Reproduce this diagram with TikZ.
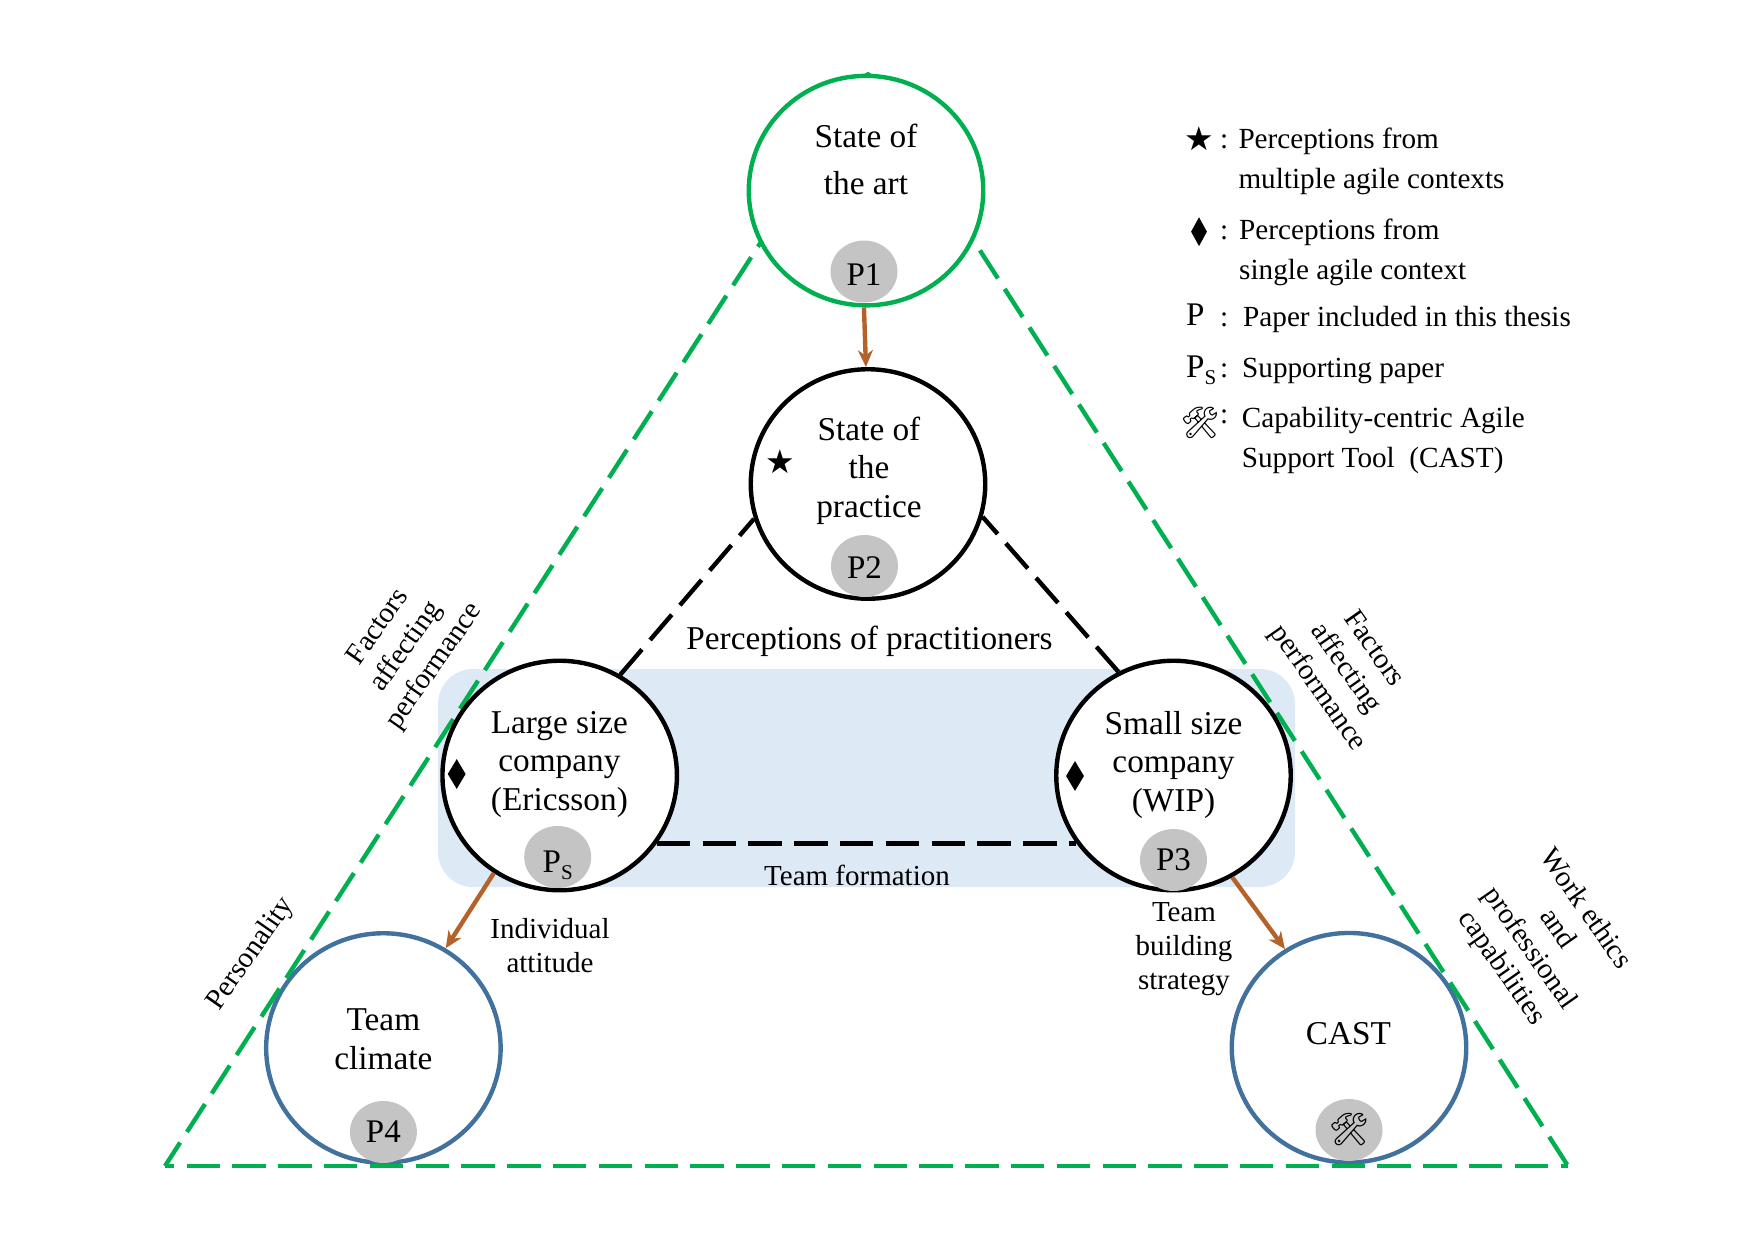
\documentclass[tikz,border=0pt]{standalone}
\usepackage{fontspec}
\setmainfont{Liberation Serif}
\newfontfamily\emojifont{Noto Emoji}
\newfontfamily\symfont{DejaVu Sans}
\usetikzlibrary{shapes.geometric,arrows.meta}
\definecolor{tgreen}{HTML}{00B050}
\definecolor{tblue}{HTML}{41719C}
\definecolor{tbrown}{HTML}{B5622A}
\definecolor{tgray}{HTML}{C4C4C4}
\definecolor{tpanel}{HTML}{DEE9F6}
\newcommand{\fsz}[2]{\fontsize{#1}{#2}\selectfont}
\newcommand{\PSub}{P\raisebox{-0.22em}{\fsz{21}{21}S}}
\tikzset{
  x=1pt,y=-1pt,
  ring/.style={ellipse,draw,line width=4.4pt,fill=white,minimum width=234.5pt,minimum height=229.5pt,inner sep=0pt},
  greenring/.style={ring,draw=tgreen},
  blackring/.style={ring,draw=black},
  bluering/.style={ring,draw=tblue},
  badge/.style={ellipse,fill=tgray,minimum width=67pt,minimum height=62pt,inner sep=0pt,font=\fsz{33}{38}},
  title/.style={align=center,inner sep=0pt,font=\fsz{33.3}{38.5}},
  smalllabel/.style={align=center,inner sep=0pt,font=\fsz{29}{34}},
  legend/.style={anchor=base west,inner sep=0pt,font=\fsz{29.2}{34}},
  legendsym/.style={inner sep=0pt,font=\fsz{33}{38}},
  gemstone/.style={diamond,fill=black,inner sep=0pt,minimum width=18pt,minimum height=30pt},
  greendash/.style={draw=tgreen,line width=4.4pt,dash pattern=on 33.3pt off 12.5pt},
  blackdash/.style={draw=black,line width=4.4pt,dash pattern=on 33.3pt off 12.5pt},
  flow/.style={draw=tbrown,line width=4.4pt,-{Stealth[length=17pt,width=15pt]}},
}
\begin{document}
\begin{tikzpicture}
\useasboundingbox (0,0) rectangle (1754,1240);
% panel
\node[fill=tpanel,rounded corners=35pt,minimum width=857pt,minimum height=218pt,inner sep=0pt] (panel) at (866.5,778) {};
% blue circles
\node[bluering] (climate) at (383.4,1048) {};
\node[bluering] (cast) at (1349,1047.7) {};
% triangle
\coordinate (apexl) at (870,73);
\coordinate (apexr) at (866,73);
\coordinate (vl) at (165,1166);
\coordinate (vr) at (1568,1166);
\draw[greendash,dash phase=9.7pt] (apexl) -- (vl);
\draw[greendash,dash phase=18.2pt] (apexr) -- (vr);
\draw[greendash,dash phase=24.2pt] (vl) -- (vr);
% circles
\node[greenring] (art) at (866,190.6) {};
\node[blackring] (practice) at (868,484) {};
\node[blackring] (large) at (559.7,775.5) {};
\node[blackring] (small) at (1173.5,775.5) {};
% dashed connectors
\draw[blackdash] (large.59) -- (practice.197);
\draw[blackdash] (small.118) -- (practice.-16);
\draw[blackdash] (large.-35) -- (small.215);
% arrows
\draw[flow] (art.-91) -- (practice.91);
\draw[flow] (large.236) -- (climate.58.5);
\draw[flow] (small.-60) -- (cast.123.4);
% badges
\node[badge] (p1) at (864,271.5) {\raisebox{-3pt}[22pt][0pt]{P1}};
\node[badge] (p2) at (864.5,566) {\raisebox{-1pt}[22pt][0pt]{P2}};
\node[badge] (ps) at (557.7,857) {\raisebox{-4pt}[22pt][0pt]{\PSub}};
\node[badge] (p3) at (1173.5,860) {P3};
\node[badge] (p4) at (383.4,1132) {P4};
\node[badge] (p5) at (1349,1130) {\emojifont\fsz{32}{36}^^^^^^01f6e0};
% circle titles
\node[title,font=\fsz{33.3}{47}] (tart) at (866,159) {State of\\the art};
\node[title] (tpractice) at (869,470.6) {State of\\the\\practice};
\node[title] (tlarge) at (559.4,764.5) {Large size\\company\\(Ericsson)};
\node[title] (tsmall) at (1173.5,764.5) {Small size\\company\\(WIP)};
\node[title] (tclimate) at (383.4,1039) {Team\\climate};
\node[title] (tcast) at (1348.5,1033.6) {CAST};
\node[legendsym,font=\symfont\fsz{33}{38}] (sstar) at (780,462) {★};
\node[gemstone] (gl) at (456.7,774) {};
\node[gemstone] (gs) at (1075,776) {};
% labels
\node[title] (lperc) at (869.5,641) {Perceptions of practitioners};
\node[smalllabel] (lform) at (857,875.6) {Team formation};
\node[smalllabel] (lind) at (550,946) {Individual\\attitude};
\node[smalllabel] (lteam) at (1184,949) {Team\\building\\strategy};
\node[smalllabel,rotate=55] (lfl) at (407,647) {Factors\\affecting\\performance};
\node[smalllabel,rotate=-55] (lfr) at (1345,669) {Factors\\affecting\\performance};
\node[smalllabel,rotate=55] (lpers) at (251,954) {Personality};
\node[smalllabel,rotate=-55] (lwork) at (1543,939) {Work ethics\\and\\professional\\capabilities};
% legend
\node[legendsym,font=\symfont\fsz{33}{38}] (ks) at (1199,139) {★};
\node[legend] (kc1) at (1220,148.3) {:};
\node[legend] (k1a) at (1238.3,148.3) {Perceptions from};
\node[legend] (k1b) at (1238.3,188.7) {multiple agile contexts};
\node[gemstone,minimum width=16pt,minimum height=29pt] (kd) at (1199,231.7) {};
\node[legend] (kc2) at (1220,239) {:};
\node[legend] (k2a) at (1239,239.5) {Perceptions from};
\node[legend] (k2b) at (1239,279.5) {single agile context};
\node[legend,font=\fsz{33}{38}] (kp) at (1186,325.7) {P};
\node[legend] (kc3) at (1220,326.7) {:};
\node[legend] (k3a) at (1243,326.7) {Paper included in this thesis};
\node[legend,font=\fsz{33}{38}] (kps) at (1186,377.7) {\PSub};
\node[legend] (kc4) at (1220,377.7) {:};
\node[legend] (k4a) at (1242,377.7) {Supporting paper};
\node[legendsym,font=\emojifont\fsz{31}{36}] (kt) at (1200,422.7) {^^^^^^01f6e0};
\node[legend] (kc5) at (1220,423) {:};
\node[legend] (k5a) at (1241.7,427.7) {Capability-centric Agile};
\node[legend] (k5b) at (1241.7,467.7) {Support Tool\ \ (CAST)};
\end{tikzpicture}
\end{document}
